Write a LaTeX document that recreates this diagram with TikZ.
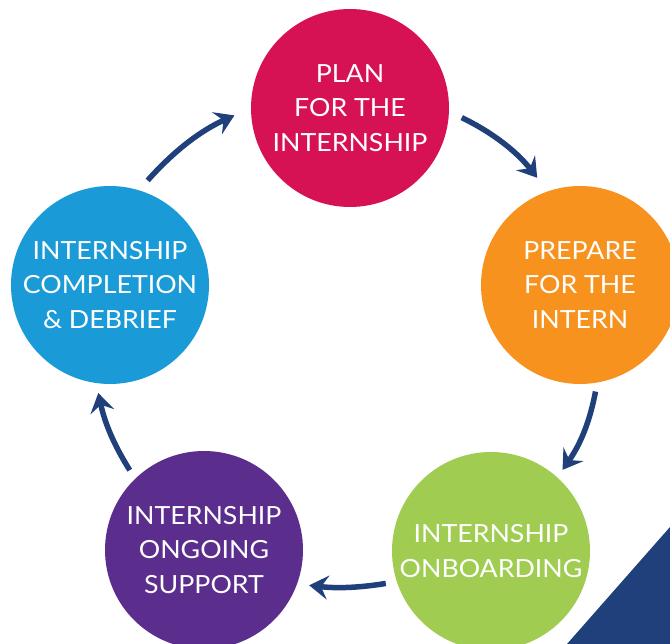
\documentclass[tikz,border=0pt]{standalone}
\usepackage{fontspec}
\setmainfont{Lato}[FakeStretch=1.07]
\usetikzlibrary{arrows.meta}

\definecolor{planred}{RGB}{214,18,85}
\definecolor{prepareorange}{RGB}{247,146,30}
\definecolor{onboardgreen}{RGB}{160,204,82}
\definecolor{supportpurple}{RGB}{91,45,140}
\definecolor{debriefblue}{RGB}{26,155,215}
\definecolor{cyclenavy}{RGB}{31,64,122}

\tikzset{
  stage/.style={circle, minimum size=198pt, inner sep=0pt, text=white,
    align=center, font=\fontsize{25}{34.5}\selectfont},
  flow/.style={line width=5.5pt, draw=cyclenavy,
    -{Stealth[length=19pt,width=24pt,inset=7pt]},
    shorten <=11pt, shorten >=12pt}
}

\begin{document}
\begin{tikzpicture}[x=1pt,y=1pt]
    \useasboundingbox (0,0) rectangle (670,-644);
    \clip (0,0) rectangle (670,-644);

    % corner band
    \fill[cyclenavy] (670,-527) -- (567,-644) -- (670,-644) -- cycle;

    % the five stages
    \node[stage, fill=planred] (plan) at (350,-108) {PLAN\\FOR THE\\INTERNSHIP};
    \node[stage, fill=prepareorange] (prepare) at (580,-285) {PREPARE\\FOR THE\\INTERN};
    \node[stage, fill=onboardgreen] (onboard) at (491,-551) {INTERNSHIP\\ONBOARDING};
    \node[stage, fill=supportpurple] (support) at (204,-550) {INTERNSHIP\\ONGOING\\SUPPORT};
    \node[stage, fill=debriefblue] (debrief) at (110,-285) {INTERNSHIP\\COMPLETION\\\& DEBRIEF};

    % arrows round the cycle
    \draw[flow, shorten <=13pt, shorten >=18pt] (debrief.73) to[bend left=12] (plan.180);
    \draw[flow, shorten <=14pt, shorten >=17pt] (plan.-2) to[bend left=13] (prepare.109);
    \draw[flow, shorten <=9pt, shorten >=9pt] (prepare.-80) to[bend left=12] (onboard.48);
    \draw[flow] (onboard.198) to[bend left=8] (support.-20);
    \draw[flow, shorten <=10pt, shorten >=10pt] (support.134) to[bend left=10] (debrief.-98);
\end{tikzpicture}
\end{document}
